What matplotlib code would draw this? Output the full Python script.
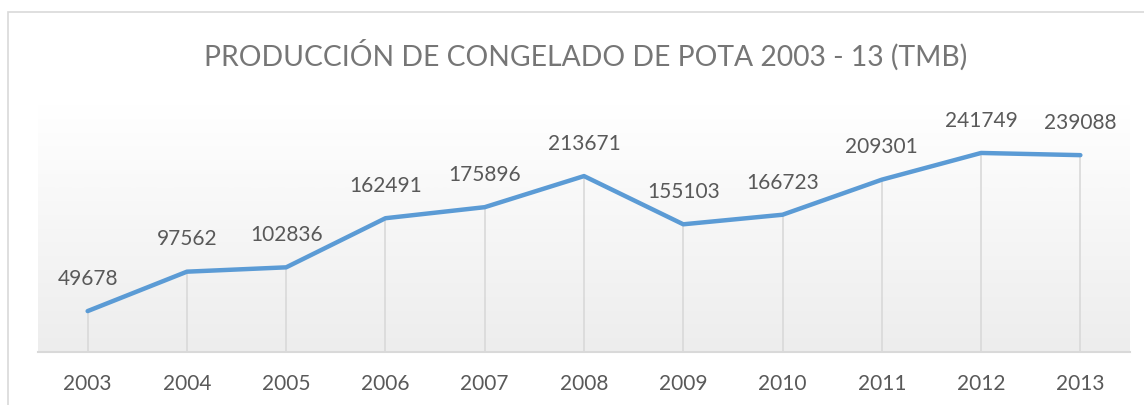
import numpy as np
import matplotlib.pyplot as plt
from matplotlib.patches import Rectangle

years = ['2003', '2004', '2005', '2006', '2007', '2008',
         '2009', '2010', '2011', '2012', '2013']
produccion = [49678, 97562, 102836, 162491, 175896, 213671,
              155103, 166723, 209301, 241749, 239088]

title = 'PRODUCCIÓN DE CONGELADO DE POTA 2003 - 13 (TMB)'

plt.rcParams['font.family'] = ['Lato', 'DejaVu Sans']

W, H = 1144, 405
fig = plt.figure(figsize=(W / 100, H / 100), dpi=100)

# outer chart frame
fig.patches.append(Rectangle((8 / W, -0.1), 1.2, (H - 12) / H + 0.1,
                             transform=fig.transFigure, fill=False,
                             edgecolor='#d9d9d9', linewidth=1.2))

ax = fig.add_axes([38 / W, (H - 352) / H, (1130 - 38) / W, (352 - 105) / H])
ax.set_xlim(-0.5, len(years) - 0.5)
ax.set_ylim(0, 300000)

# gradient background of the plot area
grad = np.linspace(0, 1, 256).reshape(-1, 1)
ax.imshow(grad, extent=(0, 1, 0, 1), transform=ax.transAxes, aspect='auto',
          cmap=plt.matplotlib.colors.LinearSegmentedColormap.from_list(
              'g', ['#ededed', '#ffffff']),
          origin='lower', zorder=0)

x = np.arange(len(years))
ax.vlines(x, 0, produccion, colors='#d9d9d9', linewidth=1.2, zorder=1)
ax.plot(x, produccion, color='#5b9bd5', linewidth=3.2,
        solid_capstyle='round', solid_joinstyle='round', zorder=3)

for xi, v in zip(x, produccion):
    ax.annotate(str(v), (xi, v), xytext=(0, 16), textcoords='offset points',
                ha='center', va='bottom', fontsize=15, color='#595959')

ax.set_xticks(x)
ax.set_xticklabels(years, fontsize=15, color='#595959')
ax.tick_params(axis='x', length=0, pad=15.5)
ax.set_yticks([])
for side in ['top', 'left', 'right']:
    ax.spines[side].set_visible(False)
ax.spines['bottom'].set_color('#d9d9d9')
ax.spines['bottom'].set_linewidth(1.5)

fig.text(586 / W, (H - 55) / H, title, ha='center', va='center',
         fontsize=20.3, color='#767676')

fig.savefig('out.png', dpi=100)
